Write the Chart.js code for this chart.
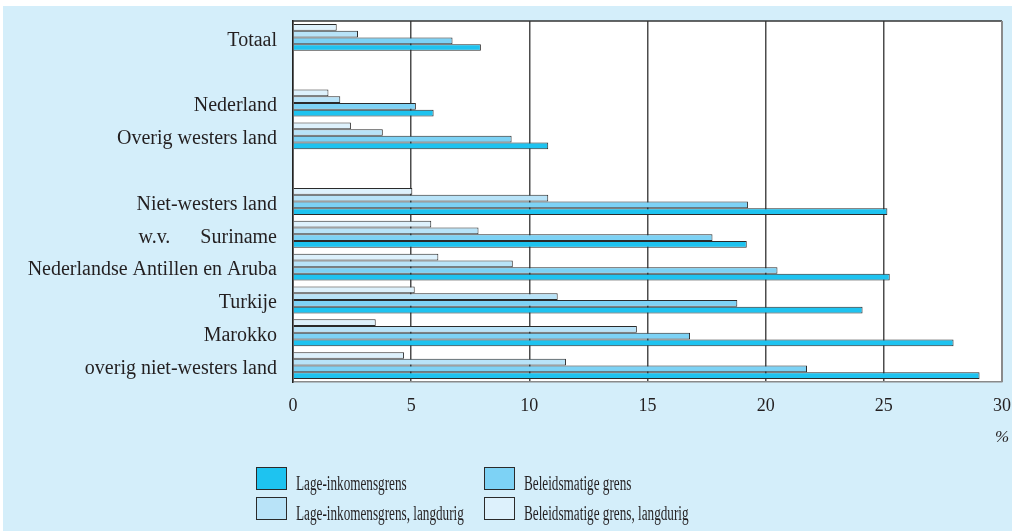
<!DOCTYPE html>
<html>
<head>
<meta charset="utf-8">
<script src="https://cdn.jsdelivr.net/npm/chart.js@4.4.1/dist/chart.umd.min.js"></script>
<style>
html, body { margin: 0; padding: 0; background: #fff; }
</style>
</head>
<body>
<canvas id="graphArmoede" width="1012" height="531"></canvas>
<script>
// categorieen (lege regels = witruimte tussen de groepen)
const categories = ["Totaal", "", "Nederland", "Overig westers land", "", "Niet-westers land",
    "w.v.      Suriname", "Nederlandse Antillen en Aruba", "Turkije", "Marokko", "overig niet-westers land"];
const lageInkomen = [7.95, null, 5.95, 10.8, null, 25.15, 19.2, 25.25, 24.1, 27.95, 29.05];
const beleidsmatig = [6.75, null, 5.2, 9.25, null, 19.25, 17.75, 20.5, 18.8, 16.8, 21.75];
const lageInkomenLang = [2.75, null, 2.0, 3.8, null, 10.8, 7.85, 9.3, 11.2, 14.55, 11.55];
const beleidsmatigLang = [1.85, null, 1.5, 2.45, null, 5.05, 5.85, 6.15, 5.15, 3.5, 4.7];
const xTicks = [0, 5, 10, 15, 20, 25, 30];

const serif = "'Liberation Serif', 'DejaVu Serif', serif";
const tekstKleur = '#231f20';

const achtergrond = {
    id: 'achtergrond',
    beforeDraw(chart) {
        const ctx = chart.ctx;
        const a = chart.chartArea;
        ctx.save();
        ctx.fillStyle = '#ffffff';
        ctx.fillRect(0, 0, chart.width, chart.height);
        ctx.fillStyle = '#d4eefa';
        ctx.fillRect(3, 6, chart.width - 3, chart.height - 6);
        ctx.fillStyle = '#ffffff';
        ctx.fillRect(a.left, a.top, a.right - a.left, a.bottom - a.top);
        ctx.restore();
    },
    afterDraw(chart) {
        const ctx = chart.ctx;
        const a = chart.chartArea;
        ctx.save();
        // kader
        ctx.strokeStyle = '#333';
        ctx.lineWidth = 1.5;
        ctx.beginPath();
        ctx.moveTo(a.left, a.top);
        ctx.lineTo(a.right, a.top);
        ctx.stroke();
        ctx.strokeStyle = '#8a8a8a';
        ctx.lineWidth = 2;
        ctx.beginPath();
        ctx.moveTo(a.right, a.top);
        ctx.lineTo(a.right, a.bottom);
        ctx.stroke();

        ctx.fillStyle = tekstKleur;
        ctx.font = "italic 17px " + serif;
        ctx.textAlign = 'center';
        ctx.textBaseline = 'middle';
        ctx.fillText('%', a.right, 438);

        // legenda (smal lettertype, daarom horizontaal geschaald)
        const items = [
            { ds: 3, x: 256, y: 467 },
            { ds: 2, x: 484, y: 467 },
            { ds: 1, x: 256, y: 497 },
            { ds: 0, x: 484, y: 497 }
        ];
        items.forEach(it => {
            const ds = chart.data.datasets[it.ds];
            ctx.fillStyle = ds.backgroundColor;
            ctx.fillRect(it.x, it.y, 30, 22);
            ctx.strokeStyle = '#2a2a2a';
            ctx.lineWidth = 1;
            ctx.strokeRect(it.x + 0.5, it.y + 0.5, 30, 22);
            ctx.save();
            ctx.translate(it.x + 40, it.y + 18);
            ctx.scale(0.66, 1);
            ctx.font = "20px " + serif;
            ctx.textAlign = 'left';
            ctx.fillStyle = tekstKleur;
            ctx.fillText(ds.label, 0, 0);
            ctx.restore();
        });
        ctx.restore();
    }
};

const ctxArmoede = document.getElementById('graphArmoede').getContext('2d');

new Chart(ctxArmoede, {
    type: 'bar',
    data: {
        labels: categories,
        datasets: [
            { label: 'Beleidsmatige grens, langdurig', data: beleidsmatigLang, backgroundColor: '#ddf1fc' },
            { label: 'Lage-inkomensgrens, langdurig', data: lageInkomenLang, backgroundColor: '#b8e3f8' },
            { label: 'Beleidsmatige grens', data: beleidsmatig, backgroundColor: '#7dd2f5' },
            { label: 'Lage-inkomensgrens', data: lageInkomen, backgroundColor: '#1ec3f0' }
        ].map(d => Object.assign(d, {
            borderColor: '#2a2a2a',
            borderWidth: 1,
            borderSkipped: 'left',
            categoryPercentage: 0.82,
            barPercentage: 1
        }))
    },
    options: {
        indexAxis: 'y',
        responsive: false,
        animation: false,
        devicePixelRatio: 1,
        layout: { padding: { top: 21, right: 10, left: 0, bottom: 0 } },
        plugins: {
            legend: { display: false },
            tooltip: { enabled: false }
        },
        scales: {
            x: {
                min: 0,
                max: 30,
                afterFit: scale => {
                    scale.height = 149;
                    scale.paddingLeft = 0;
                    scale.paddingRight = 0;
                },
                afterBuildTicks: scale => { scale.ticks = xTicks.map(v => ({ value: v })); },
                grid: { color: '#4d4d4d', lineWidth: 1.5, drawTicks: false },
                border: { color: '#8a8a8a', width: 1.5 },
                ticks: { padding: 13, color: tekstKleur, font: { family: serif, size: 18 } }
            },
            y: {
                afterFit: scale => {
                    scale.width = 293;
                    scale.paddingTop = 0;
                    scale.paddingBottom = 0;
                },
                grid: { display: false, drawTicks: false },
                border: { color: '#222', width: 1.5 },
                ticks: { autoSkip: false, padding: 16, labelOffset: 3, color: tekstKleur, font: { family: serif, size: 20 } }
            }
        }
    },
    plugins: [achtergrond]
});
</script>
</body>
</html>
